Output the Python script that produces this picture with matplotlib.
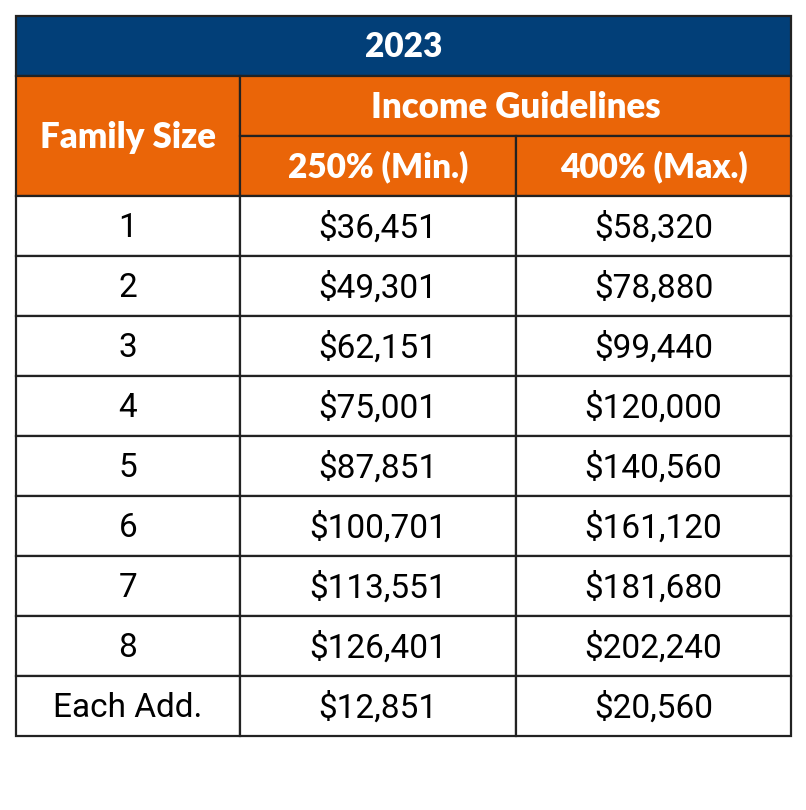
import matplotlib
matplotlib.use("Agg")
import matplotlib.pyplot as plt
from matplotlib.patches import Rectangle

title = "2023"
group_header = "Income Guidelines"
first_col_header = "Family Size"
sub_headers = ["250% (Min.)", "400% (Max.)"]
family_sizes = ["1", "2", "3", "4", "5", "6", "7", "8", "Each Add."]
min_income = ["$36,451", "$49,301", "$62,151", "$75,001", "$87,851",
              "$100,701", "$113,551", "$126,401", "$12,851"]
max_income = ["$58,320", "$78,880", "$99,440", "$120,000", "$140,560",
              "$161,120", "$181,680", "$202,240", "$20,560"]

BLUE = "#023F78"
ORANGE = "#EA6508"
LINE = "#222222"

W, H = 806, 810
fig = plt.figure(figsize=(W / 100, H / 100), dpi=100)
ax = fig.add_axes([0, 0, 1, 1])
ax.set_xlim(0, W)
ax.set_ylim(H, 0)
ax.axis("off")

x0, x1, x2, x3 = 16, 240, 516, 791
y_top = 16
rh = 60
hfont = dict(family=["Lato", "DejaVu Sans"], fontweight="heavy", color="white")
bfont = dict(family=["Roboto", "DejaVu Sans"], color="black")

def cell(x, y, w, h, fc):
    ax.add_patch(Rectangle((x, y), w, h, facecolor=fc, edgecolor=LINE, linewidth=1.6))

# title row
cell(x0, y_top, x3 - x0, rh, BLUE)
ax.text((x0 + x3) / 2, y_top + rh / 2 + 1, title, ha="center", va="center", fontsize=24, **hfont)

# header rows
yh = y_top + rh
cell(x0, yh, x1 - x0, 2 * rh, ORANGE)
ax.text((x0 + x1) / 2, yh + rh + 1, first_col_header, ha="center", va="center", fontsize=25, **hfont)
cell(x1, yh, x3 - x1, rh, ORANGE)
ax.text((x1 + x3) / 2, yh + rh / 2 + 1, group_header, ha="center", va="center", fontsize=25, **hfont)
cols = [(x1, x2), (x2, x3)]
for (a, b), lab in zip(cols, sub_headers):
    cell(a, yh + rh, b - a, rh, ORANGE)
    ax.text((a + b) / 2, yh + rh * 1.5 + 1, lab, ha="center", va="center", fontsize=24, **hfont)

# body rows
yb = yh + 2 * rh
for i, (fs, mn, mx) in enumerate(zip(family_sizes, min_income, max_income)):
    y = yb + i * rh
    for (a, b), val in zip([(x0, x1), (x1, x2), (x2, x3)], [fs, mn, mx]):
        cell(a, y, b - a, rh, "white")
        ax.text((a + b) / 2, y + rh / 2 + 2, val, ha="center", va="center", fontsize=24, **bfont)

fig.savefig("out.png", dpi=100, facecolor="white")
